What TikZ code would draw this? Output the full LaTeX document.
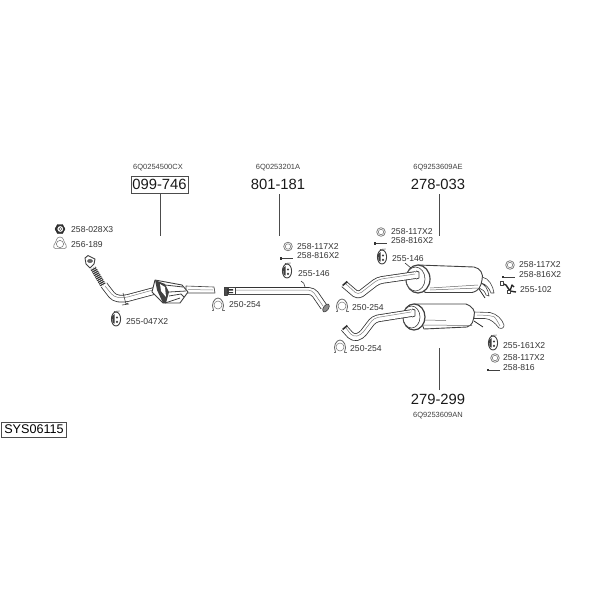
\documentclass[tikz,border=0pt]{standalone}
\usepackage{fontspec}
\usetikzlibrary{calc}
\setmainfont{Liberation Sans}
\tikzset{
 lbl/.style={anchor=west,inner sep=0pt,font=\fontsize{8.6}{10}\selectfont,text=black!80},
 num/.style={inner sep=0pt,font=\fontsize{14.8}{18}\selectfont,text=black!90},
 code/.style={inner sep=0pt,font=\fontsize{7.5}{8}\selectfont,text=black!75},
 lead/.style={draw=black!70,line width=0.9pt},
 part/.style={draw=black!75,line width=0.6pt,fill=white,line join=round},
 thin part/.style={draw=black!55,line width=0.5pt,fill=white},
 pipeout/.style={draw=black!80,line width=7.6pt,line join=round,rounded corners=4pt},
 pipein/.style={draw=white,line width=6pt,line join=round,rounded corners=4pt},
 pipeline/.style={draw=black!50,line width=0.5pt,line join=round,rounded corners=4pt},
 clampkey/.pic={
  \draw[thin part] (-4,5) -- (-6.5,5) (4,5) -- (6.5,5);
  \draw[part,draw=black!60,line width=0.8pt] (-4.5,5) .. controls (-7.5,-1) and (-3.5,-7) .. (0,-7) .. controls (3.5,-7) and (7.5,-1) .. (4.5,5);
  \draw[thin part] (0,0) circle (4);
 },
 ringkey/.pic={
  \draw[thin part,line width=0.7pt] (0,0) circle (4.3);
  \draw[thin part,line width=0.5pt] (0,0) circle (2.7);
 },
 boltkey/.pic={
  \draw[black!75,line width=0.7pt] (-5,0) -- (7,0);
  \fill[black!80] (-6.5,-1.2) rectangle (-4,1.2);
 },
 hangerkey/.pic={
  \draw[part,line width=0.9pt] (0,0) ellipse (4.6 and 7);
  \fill[black!75] (-4,-3) -- (-1.4,-5) -- (-1.5,4.5) -- (-3.4,4) -- cycle;
  \fill[black!75] (1,-1.5) circle (1.2) (1,2.8) circle (1.2);
  \draw[black!70,line width=0.6pt] (-2,-7.5) -- (3.5,-8);
 },
}
\begin{document}
\begin{tikzpicture}[x=1pt,y=-1pt]
\useasboundingbox (0,0) rectangle (600,600);
% --- titles and leaders
\node[code] (c1) at (158,168) {6Q0254500CX};
\node[num,draw=black!70,line width=0.6pt,minimum width=57pt,minimum height=17pt] (n1) at (159.5,184.5) {099-746};
\coordinate (e1) at (160,236);
\draw[lead] (n1.south -| e1) -- (e1);
\node[code] (c2) at (278,168) {6Q0253201A};
\node[num] (n2) at (278,184.5) {801-181};
\coordinate (e2) at (279.5,236);
\draw[lead] (279.5,194) -- (e2);
\node[code] (c3) at (438,168) {6Q9253609AE};
\node[num] (n3) at (438,184.5) {278-033};
\coordinate (e3) at (439.5,236);
\draw[lead] (439.5,194) -- (e3);
\node[num] (n4) at (438,399.5) {279-299};
\node[code] (c4) at (438,415.5) {6Q9253609AN};
\coordinate (e4) at (439.5,348);
\draw[lead] (439.5,390) -- (e4);
\node[draw=black!70,line width=0.6pt,inner sep=0pt,minimum width=65pt,minimum height=15pt,font=\fontsize{12.6}{14}\selectfont] (sys) at (34,429.5) {SYS06115};
% --- front pipe with catalyst
\draw[part] (186,286) -- (214,287) -- (215,293) -- (186,293) -- cycle;
\draw[pipeline] (188,289.5) -- (213,290);
\draw[pipeout] (104,285) -- (114,298) -- (124,299) -- (154,291);
\draw[pipein] (104,285) -- (114,298) -- (124,299) -- (154,291);
\draw[pipeline] (105,286) -- (114,297) -- (124,298) -- (153,290);
\draw[part,line width=0.9pt] (155,280) -- (182,285) -- (188,292) -- (180,303) -- (163,303) -- (152,292) -- cycle;
\fill[black!75] (155,280) -- (165,284) -- (169,292) -- (166,303) -- (163,303) -- (157,290) -- cycle;
\fill[white] (160,284) -- (165,287) -- (166,297) -- (161,291) -- cycle;
\draw[part,fill=none,line width=0.8pt] (165,285) -- (183,287) (169,292) -- (186,291) (169,296) -- (181,294) -- (184,297) (165,303) -- (180,298);
\draw[part,fill=none] (123,293) -- (126,304) -- (128,303) (122,305) -- (129,304);
\draw[draw=black!80,line width=6pt] (93,268) -- (103,285);
\foreach \t in {0,0.1,...,1.01}
 \draw[white,line width=0.5pt] ($(90,270)!\t!(100,287)$) -- ++(6.6,-3.7);
\draw[part,line width=0.9pt] (85,258) -- (88,255.5) -- (95,259) -- (94,264) -- (90,268) -- (86,264) -- cycle;
\draw[black!75,fill=black!60] (90,261) ellipse (2.5 and 1.6);
% --- middle pipe
\draw[pipeout] (226,291) -- (313,291) -- (324,307);
\draw[pipein] (226,291) -- (313,291) -- (324,307);
\draw[pipeline] (228,290) -- (312,290) -- (323,306);
\draw[part,fill=black!70] (224.5,287) rectangle (227.5,295);
\draw[part,fill=white] (228,287.5) rectangle (235,294.5);
\fill[black!80] (227,289) rectangle (233,290.5) (227,292) rectangle (233,293);
\draw[part,fill=black!45,rotate around={-35:(326,308)}] (326,308) ellipse (2.5 and 4.6);
\coordinate (t1) at (301,281);
\coordinate (t2) at (305,287);
\draw[black!80,line width=0.6pt] (t1) .. controls (304,282) and (304,284) .. (t2);
% --- upper rear muffler
\draw[part] (482,277) .. controls (489,278) and (493,286) .. (494,293) -- (491,293) .. controls (489,288) and (486,284) .. (481,283) (480,283) .. controls (485,284) and (488,289) .. (489,296) -- (486,295) .. controls (485,291) and (482,289) .. (479,288);
\draw[black!85,line width=0.8pt] (479,289) -- (485,298);
\draw[part,line width=0.9pt] (418,265) -- (474,267) .. controls (480,268) and (484,274) .. (482,280) .. controls (481,286) and (479,291) .. (472,292.5) -- (425,292.5) -- cycle;
\draw[black!60,line width=0.5pt] (430,288) -- (478,285) (430,290) -- (478,288);
\draw[part,line width=1.2pt] (418,279) ellipse (12 and 14);
\draw[part] (415.5,279) ellipse (9.5 and 12);
\draw[pipeout] (344,284) -- (358,296) -- (378,280.5) -- (416,275);
\draw[pipein] (344,284) -- (358,296) -- (378,280.5) -- (416,275);
\draw[pipeline] (346,284) -- (358,295) -- (378,279.5) -- (415,274);
\draw[part,line width=0.8pt] (416,271) -- (419,272) -- (419,278) -- (416,279);
\fill[black!80,rotate around={40:(345,283.5)}] (342,282.7) rectangle (348,284.3);
\coordinate (t3) at (405,263);
\coordinate (t4) at (411,268);
\draw[black!80,line width=0.6pt] (t3) -- (t4);
% --- lower rear muffler
\draw[part] (474,312) -- (490,312.5) .. controls (497,314) and (502,319) .. (504,325) .. controls (504,328) and (502,329) .. (499,328) .. controls (495,323) and (491,319) .. (485,318.5) -- (474,318.5) -- cycle;
\draw[pipeline] (477,315) -- (490,315.5) .. controls (495,317) and (498,322) .. (500,326);
\draw[black!85,line width=0.8pt] (474,321) -- (483,327);
\draw[part,line width=0.9pt] (414,304) -- (466,304) .. controls (472,306) and (476,311) .. (474,316) .. controls (473,321) and (473,325) .. (467,327) -- (424,329) -- cycle;
\draw[black!60,line width=0.5pt] (425,320) -- (446,320.5) (423,325) -- (472,325.5);
\draw[part,line width=1.2pt] (414,317) ellipse (11 and 13);
\draw[part] (411.5,317) ellipse (8.5 and 11);
\draw[pipeout] (344,328) -- (353,338) -- (361,336) -- (374,319) -- (412,313);
\draw[pipein] (344,328) -- (353,338) -- (361,336) -- (374,319) -- (412,313);
\draw[pipeline] (346,328) -- (353,337) -- (361,335) -- (374,318) -- (411,312);
\draw[part,line width=0.8pt] (412,309) -- (415,310) -- (415,316) -- (412,317);
\fill[black!80,rotate around={40:(345,327.5)}] (342,326.7) rectangle (348,328.3);
% --- small parts with their labels
\node[lbl] (l1) at (71,230) {258-028X3};
\draw[black!90,fill=black!80] (55,229) -- (57.5,224.5) -- (62.5,224.5) -- (65,229) -- (62.5,233.5) -- (57.5,233.5) -- cycle;
\draw[white,fill=white] (60.3,229) circle (2.6);
\draw[black!80,line width=0.4pt] (60.3,229) circle (1.5);
\node[lbl] (l2) at (71,245) {256-189};
\draw[thin part] (60,237) .. controls (64,237) and (63,241) .. (66,245) .. controls (68,249) and (63,249) .. (60,248.5) .. controls (57,249) and (52,249) .. (54,245) .. controls (57,241) and (56,237) .. (60,237) -- cycle;
\draw[thin part] (60,244) circle (3.6);
\node[lbl] (l3) at (126,322) {255-047X2};
\pic at (116,319) {hangerkey};
\pic at (218,305) {clampkey};
\node[lbl] (l4) at (229,304.5) {250-254};
\pic at (288,246.5) {ringkey};
\node[lbl] (l5) at (297,247) {258-117X2};
\pic at (286,258.5) {boltkey};
\node[lbl] (l6) at (297,256) {258-816X2};
\pic at (287,271) {hangerkey};
\node[lbl] (l7) at (298,274) {255-146};
\pic at (342,306) {clampkey};
\node[lbl] (l8) at (352,307.5) {250-254};
\pic at (340,347) {clampkey};
\node[lbl] (l9) at (350,348.5) {250-254};
\pic at (381,232) {ringkey};
\node[lbl] (l10) at (391,231.5) {258-117X2};
\pic at (380,243.5) {boltkey};
\node[lbl] (l11) at (391,240.5) {258-816X2};
\pic at (382,257) {hangerkey};
\node[lbl] (l12) at (392,258.5) {255-146};
\pic at (510,265) {ringkey};
\node[lbl] (l13) at (519,265) {258-117X2};
\pic at (508,277) {boltkey};
\node[lbl] (l14) at (519,275) {258-816X2};
\node[lbl] (l15) at (520,290) {255-102};
\draw[black!85,line width=1.4pt,line join=round] (501,283) -- (506,285) -- (510,291) -- (516,292) (510,291) -- (512,285) -- (514,287);
\draw[part] (500,281.5) rectangle (503,285) (507,290) rectangle (510,293.5);
\pic at (493,343) {hangerkey};
\node[lbl] (l16) at (503,346) {255-161X2};
\pic at (495,358) {ringkey};
\node[lbl] (l17) at (503,358) {258-117X2};
\pic at (493,370) {boltkey};
\node[lbl] (l18) at (503,368) {258-816};
\end{tikzpicture}
\end{document}
